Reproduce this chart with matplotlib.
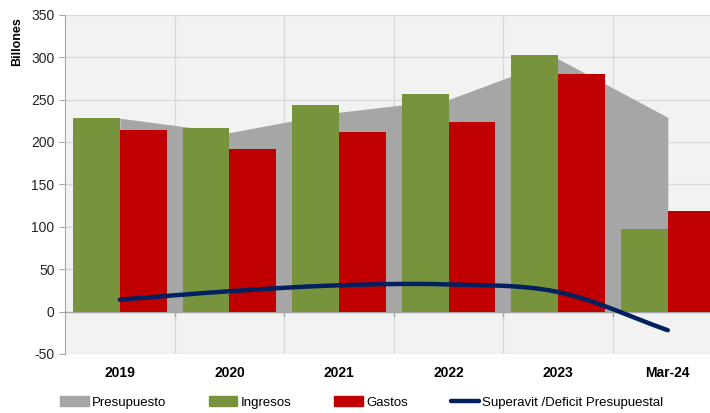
import numpy as np
import matplotlib.pyplot as plt
from matplotlib.patches import Patch
from matplotlib.lines import Line2D

plt.rcParams['font.family'] = ['Liberation Sans', 'DejaVu Sans']
plt.rcParams['axes.unicode_minus'] = False

categorias = ['2019', '2020', '2021', '2022', '2023', 'Mar-24']
presupuesto = [228, 211, 235, 250, 298, 229]
ingresos = [228, 216, 243, 256, 303, 97]
gastos = [214, 192, 212, 224, 280, 119]
superavit = [14, 24, 31, 32, 23, -22]

c_pres = '#A6A6A6'
c_ing = '#77933C'
c_gas = '#C00000'
c_sup = '#002060'


def suavizar(x, y, n=30):
    # curva tipo Excel (Catmull-Rom) solo para dibujar la linea suavizada
    x = np.asarray(x, float); y = np.asarray(y, float)
    px = np.concatenate([[2*x[0]-x[1]], x, [2*x[-1]-x[-2]]])
    py = np.concatenate([[2*y[0]-y[1]], y, [2*y[-1]-y[-2]]])
    xs, ys = [], []
    t = np.linspace(0, 1, n)
    for i in range(1, len(px)-2):
        p0, p1, p2, p3 = [np.array([px[j], py[j]]) for j in range(i-1, i+3)]
        pts = 0.5*((2*p1)[:, None] + (-p0+p2)[:, None]*t
                   + (2*p0-5*p1+4*p2-p3)[:, None]*t**2
                   + (-p0+3*p1-3*p2+p3)[:, None]*t**3)
        xs.extend(pts[0]); ys.extend(pts[1])
    return np.array(xs), np.array(ys)


fig = plt.figure(figsize=(7.10, 4.13), dpi=100)
ax = fig.add_axes([65/710, 0.1429, 657.6/710, 0.8215])
ax.set_facecolor('#F2F2F2')

x = np.arange(len(categorias))
w = 0.427

ax.fill_between(x, 0, presupuesto, color=c_pres, lw=0, zorder=2)
ax.bar(x - w/2, ingresos, w, color=c_ing, zorder=3)
ax.bar(x + w/2, gastos, w, color=c_gas, zorder=3)
sx, sy = suavizar(x, superavit)
ax.plot(sx, sy, color=c_sup, lw=3.2, solid_capstyle='round', zorder=4)

ax.set_xlim(-0.5, len(categorias) - 0.5)
ax.set_ylim(-50, 350)
ax.set_yticks(np.arange(-50, 351, 50))
ax.set_xticks(x)
ax.set_xticklabels(categorias, fontweight='bold', fontsize=10)
ax.set_xticks(np.arange(0.5, len(categorias) - 0.5, 1), minor=True)
ax.tick_params(axis='x', which='major', length=0, pad=9)
ax.tick_params(axis='x', which='minor', length=0)
ax.tick_params(axis='y', length=4, color='#A6A6A6', labelsize=10, labelcolor='#262626')

ax.grid(True, axis='y', color='#D9D9D9', lw=1, zorder=0)
ax.grid(True, axis='x', which='minor', color='#D9D9D9', lw=1, zorder=0)
ax.set_axisbelow(True)
ax.axhline(0, color='#A6A6A6', lw=1, zorder=2.5)
for b in np.arange(0.5, len(categorias) - 0.5, 1):
    ax.plot([b, b], [0, -5], color='#A6A6A6', lw=1, zorder=2.5)

for s in ['top', 'right', 'bottom']:
    ax.spines[s].set_visible(False)
ax.spines['left'].set_color('#A6A6A6')

ax.set_ylabel('Billones', fontweight='bold', fontsize=9)
ax.yaxis.set_label_coords(-0.063, 0.92)

handles = [Patch(color=c_pres), Patch(color=c_ing), Patch(color=c_gas),
           Line2D([], [], color=c_sup, lw=3.2, solid_capstyle='round')]
labels = ['Presupuesto', 'Ingresos', 'Gastos', 'Superavit /Deficit Presupuestal']
fig.legend(handles, labels, loc='lower left', bbox_to_anchor=(0.068, -0.018),
           ncol=4, frameon=False, fontsize=9.5, handlelength=2.15,
           handleheight=0.8, handletextpad=0.25, columnspacing=3.25)

fig.savefig('out.png', dpi=100)
